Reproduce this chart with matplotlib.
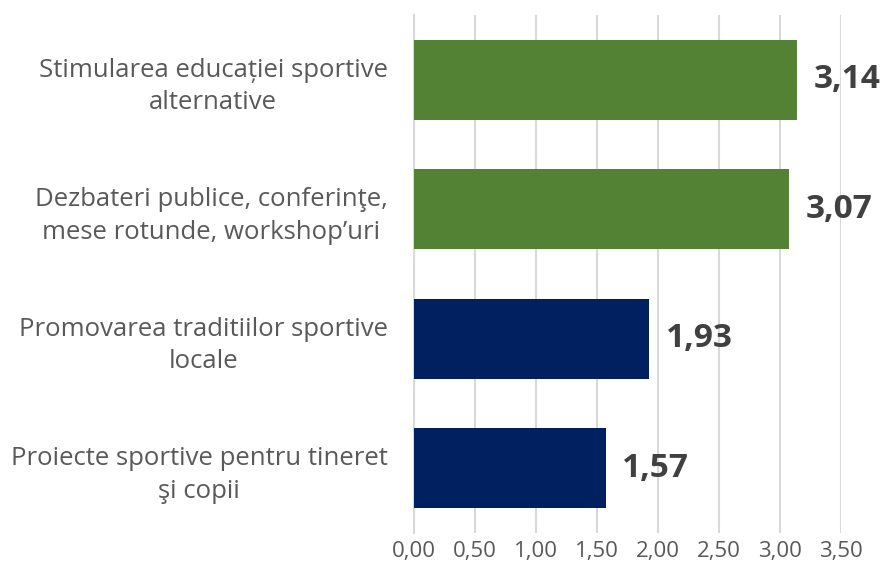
import matplotlib
matplotlib.use("Agg")
import matplotlib.pyplot as plt
from matplotlib.ticker import MultipleLocator, FuncFormatter

categories = [
    "Stimularea educației sportive\nalternative",
    "Dezbateri publice, conferinţe,\nmese rotunde, workshop’uri",
    "Promovarea traditiilor sportive\nlocale",
    "Proiecte sportive pentru tineret\nşi copii",
]
values = [3.14, 3.07, 1.93, 1.57]
colors = ["#548235", "#548235", "#002060", "#002060"]

plt.rcParams["font.family"] = ["Open Sans", "DejaVu Sans"]

fig = plt.figure(figsize=(8.82, 5.74), dpi=100)
ax = fig.add_axes([0.4694, 0.0714, 0.4841, 0.9024])

pos = list(range(len(categories)))
ax.barh(pos, values, height=0.62, color=colors, zorder=3)

for y, v in zip(pos, values):
    ax.annotate(f"{v:.2f}".replace(".", ","), xy=(v, y), xytext=(12, 0),
                textcoords="offset points", va="center", ha="left",
                fontsize=24, fontweight="bold", color="#404040")

ax.set_xlim(0, 3.5)
ax.set_ylim(len(categories) - 0.5, -0.5)
ax.xaxis.set_major_locator(MultipleLocator(0.5))
ax.xaxis.set_major_formatter(FuncFormatter(lambda x, _: f"{x:.2f}".replace(".", ",")))
ax.grid(axis="x", color="#d9d9d9", linewidth=1.5, zorder=0)

ax.set_yticks(pos)
ax.set_yticklabels(categories, multialignment="center", fontsize=18.5,
                   color="#595959", linespacing=1.4)
ax.tick_params(axis="y", length=0, pad=19)
ax.tick_params(axis="x", length=0, pad=6, labelsize=16, labelcolor="#595959")

for side in ["top", "right", "bottom"]:
    ax.spines[side].set_visible(False)
ax.spines["left"].set_color("#d9d9d9")
ax.spines["left"].set_linewidth(1.5)

fig.savefig("out.png", dpi=100)
